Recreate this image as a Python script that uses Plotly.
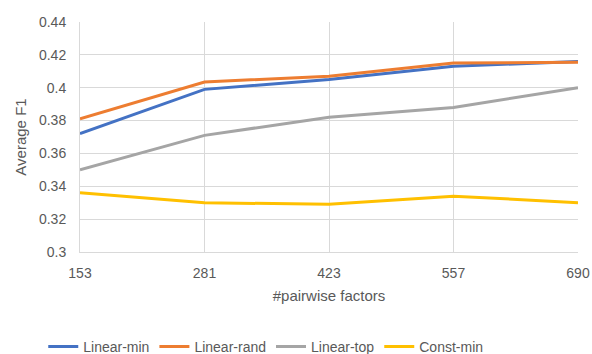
import plotly.graph_objects as go

categories = ["153", "281", "423", "557", "690"]
linear_min = [0.372, 0.399, 0.405, 0.413, 0.416]
linear_rand = [0.381, 0.4035, 0.407, 0.415, 0.4155]
linear_top = [0.350, 0.371, 0.382, 0.388, 0.400]
const_min = [0.336, 0.330, 0.329, 0.334, 0.330]

series = [
    ("Linear-min", linear_min, "#4472C4"),
    ("Linear-rand", linear_rand, "#ED7D31"),
    ("Linear-top", linear_top, "#A5A5A5"),
    ("Const-min", const_min, "#FFC000"),
]

fig = go.Figure()
for name, vals, color in series:
    fig.add_trace(go.Scatter(x=categories, y=vals, name=name, mode="lines",
                             line=dict(color=color, width=3)))

fig.update_layout(
    width=592, height=354,
    margin=dict(l=80, r=14, t=22, b=102),
    paper_bgcolor="white", plot_bgcolor="white",
    font=dict(family="Liberation Sans, Arial, sans-serif", size=14, color="#595959"),
    showlegend=True,
    legend=dict(orientation="h", x=0.373, xanchor="center", yref="container", y=0.02,
                yanchor="middle", font=dict(size=14, color="#595959"), tracegroupgap=0,
                bgcolor="rgba(0,0,0,0)"),
    xaxis=dict(type="category", range=[0, 4], showgrid=True, gridcolor="#D9D9D9",
               gridwidth=1, zeroline=False, showline=True, linecolor="#D9D9D9",
               ticks="", automargin=False, ticklabelstandoff=8,
               title=dict(text="#pairwise factors", font=dict(size=15), standoff=10)),
    yaxis=dict(range=[0.3, 0.44], showgrid=True, gridcolor="#D9D9D9",
               gridwidth=1, zeroline=False, showline=True, linecolor="#D9D9D9",
               ticks="", automargin=False, ticklabelstandoff=10,
               tickvals=[0.3, 0.32, 0.34, 0.36, 0.38, 0.4, 0.42, 0.44],
               ticktext=["0.3", "0.32", "0.34", "0.36", "0.38", "0.4", "0.42", "0.44"],
               title=dict(text="Average F1", font=dict(size=15), standoff=8)),
)

fig.write_html(
    "out.html",
    config={"displayModeBar": False},
    post_script="document.body.style.margin='0';document.body.style.overflow='hidden';",
)
